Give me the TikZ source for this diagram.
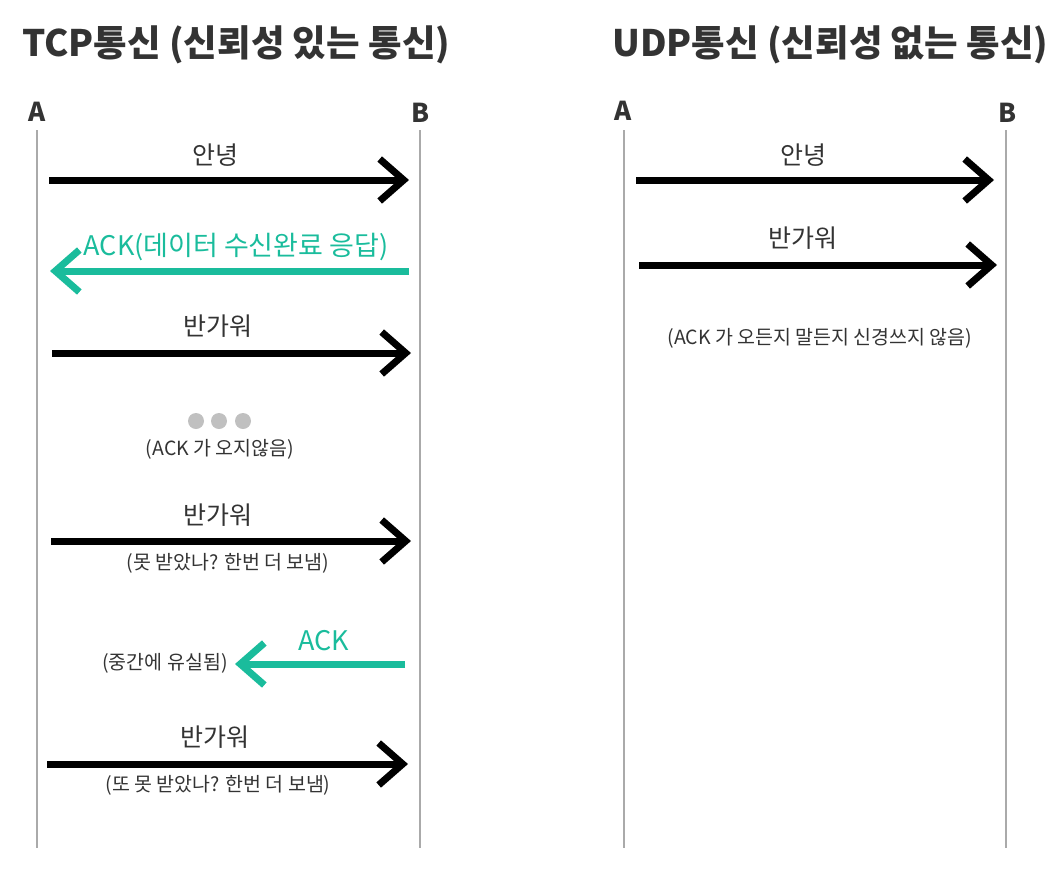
\documentclass[tikz,border=0pt]{standalone}
\usepackage{fontspec}
\setmainfont{Noto Sans CJK KR}
\usetikzlibrary{arrows.meta}
\definecolor{ackgreen}{HTML}{1ABC9C}
\definecolor{txtgray}{HTML}{333333}
\definecolor{linegray}{HTML}{AAAAAA}
\definecolor{dotgray}{HTML}{C0C0C0}
\tikzset{
  title/.style={font=\fontsize{36.5}{42}\selectfont\bfseries, text=txtgray, inner sep=0pt},
  host/.style={font=\fontsize{26}{30}\selectfont\bfseries, text=txtgray, inner sep=0pt},
  lbl/.style={font=\fontsize{25}{30}\selectfont, text=txtgray, inner sep=0pt},
  acklbl/.style={font=\fontsize{27}{32}\selectfont, text=ackgreen, inner sep=0pt},
  note/.style={font=\fontsize{19.5}{24}\selectfont, text=txtgray, inner sep=0pt},
  life/.style={draw=linegray, line width=2pt},
  msg/.style={line width=7pt, -{Straight Barb[length=24pt,width=42pt]}},
  ack/.style={msg, draw=ackgreen},
  dot/.style={circle, fill=dotgray, minimum size=16pt, inner sep=0pt}
}
\begin{document}
\begin{tikzpicture}[x=1pt,y=-1pt]
  \useasboundingbox (0,0) rectangle (1047,871);
  % titles
  \node[title, anchor=west] (tcp) at (22,45) {TCP통신 (신뢰성 있는 통신)};
  \node[title, anchor=west] (udp) at (612,45) {UDP통신 (신뢰성 없는 통신)};
  % hosts and lifelines
  \draw
    (37,112) node[host] (ta) {A}
    (421,113) node[host] (tb) {B}
    (623,111) node[host] (ua) {A}
    (1008,113) node[host] (ub) {B};
  \coordinate (ta top) at (37,130);
  \coordinate (ta end) at (37,848);
  \coordinate (tb top) at (420,130);
  \coordinate (tb end) at (420,848);
  \coordinate (ua top) at (624,130);
  \coordinate (ua end) at (624,848);
  \coordinate (ub top) at (1006,130);
  \coordinate (ub end) at (1006,848);
  \begin{scope}[life]
    \draw (ta top) -- (ta end);
    \draw (tb top) -- (tb end);
    \draw (ua top) -- (ua end);
    \draw (ub top) -- (ub end);
  \end{scope}
  % TCP messages
  \coordinate (t1a) at (49,180);  \coordinate (t1b) at (409,180);
  \coordinate (t2b) at (409,271); \coordinate (t2a) at (50,271);
  \coordinate (t3a) at (52,353);  \coordinate (t3b) at (411,353);
  \coordinate (t4a) at (51,541);  \coordinate (t4b) at (411,541);
  \coordinate (t5b) at (405,664); \coordinate (t5m) at (235,664);
  \coordinate (t6a) at (47,764);  \coordinate (t6b) at (408,764);
  \begin{scope}[msg]
    \draw (t1a) -- (t1b);
    \draw (t3a) -- (t3b);
    \draw (t4a) -- (t4b);
    \draw (t6a) -- (t6b);
  \end{scope}
  \begin{scope}[ack]
    \draw (t2b) -- (t2a);
    \draw (t5b) -- (t5m);
  \end{scope}
  \node[lbl] (t1l) at (215,155) {안녕};
  \node[acklbl] (t2l) at (236,247) {ACK(데이터 수신완료 응답)};
  \node[lbl] (t3l) at (218,326) {반가워};
  \node[dot] (d1) at (196,421) {};
  \node[dot] (d2) at (219,421) {};
  \node[dot] (d3) at (243,421) {};
  \node[note] (t3n) at (220,449) {(ACK 가 오지않음)};
  \node[lbl] (t4l) at (218,515) {반가워};
  \node[note] (t4n) at (228,563) {(못 받았나? 한번 더 보냄)};
  \node[acklbl] (t5l) at (324,641) {ACK};
  \node[note] (t5n) at (165,663) {(중간에 유실됨)};
  \node[lbl] (t6l) at (215,737) {반가워};
  \node[note] (t6n) at (218,785) {(또 못 받았나? 한번 더 보냄)};
  % UDP messages
  \coordinate (u1a) at (636,180); \coordinate (u1b) at (994,180);
  \coordinate (u2a) at (639,265); \coordinate (u2b) at (997,265);
  \begin{scope}[msg]
    \draw (u1a) -- (u1b);
    \draw (u2a) -- (u2b);
  \end{scope}
  \node[lbl] (u1l) at (803,155) {안녕};
  \node[lbl] (u2l) at (803,238) {반가워};
  \node[note] (u2n) at (820,338) {(ACK 가 오든지 말든지 신경쓰지 않음)};
\end{tikzpicture}
\end{document}
